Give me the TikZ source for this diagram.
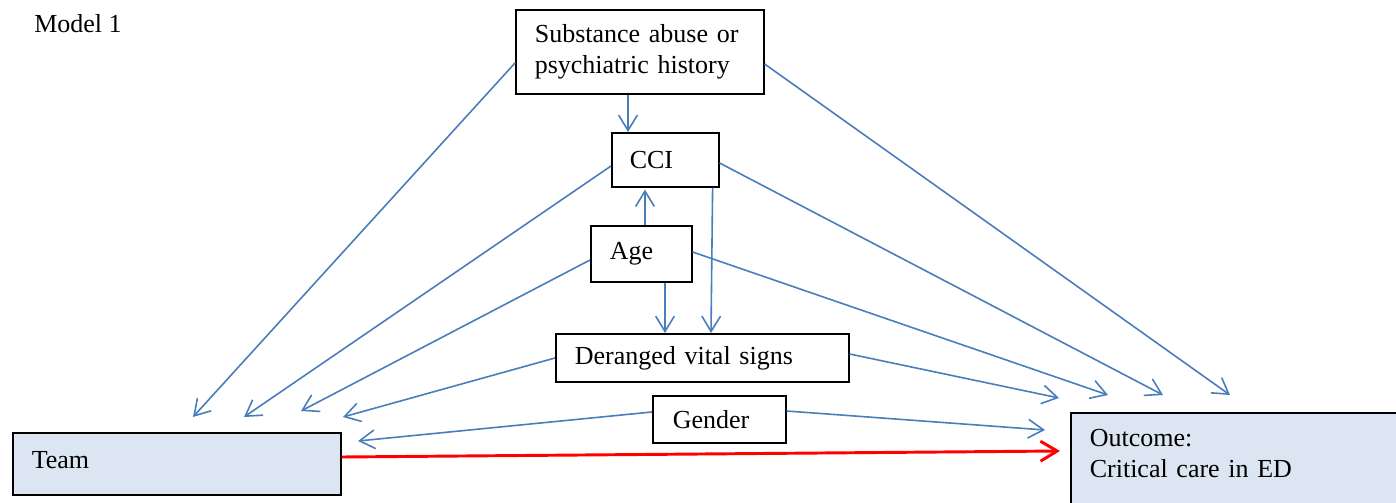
\documentclass[tikz,border=0pt]{standalone}
\usepackage{fontspec}
\setmainfont{Liberation Serif}
\usetikzlibrary{arrows.meta,calc}
\definecolor{edgeblue}{HTML}{4A7EBB}
\definecolor{boxfill}{HTML}{DCE6F2}
\begin{document}
\begin{tikzpicture}[x=0.75pt,y=-0.75pt,
  txt/.style={font=\fontsize{19.5}{23.5}\selectfont},
  box/.style={txt, draw=black, line width=1.2pt, rectangle, anchor=north west, align=left, inner ysep=0pt},
  link/.style={draw=edgeblue, line width=1.2pt, -{Straight Barb[length=11.5pt,width=14pt]}},
  mainlink/.style={draw=red, line width=2.2pt, -{Straight Barb[length=12.5pt,width=15pt]}},
]
\clip (0,0) rectangle (1396,503);
\node[txt, anchor=base west, inner sep=0pt] (title) at (34,33) {Model 1};
\node[box, minimum width=186pt, minimum height=63pt, text width=157.5pt, inner xsep=14.25pt] (sub) at (515,9) {Substance abuse or\\psychiatric history};
\node[box, minimum width=80.25pt, minimum height=40.5pt, text width=53.25pt, inner xsep=13.5pt] (cci) at (611,132) {CCI};
\node[box, minimum width=75.75pt, minimum height=42pt, text width=47.25pt, inner xsep=14.25pt] (age) at (590,225) {Age};
\node[box, minimum width=219.75pt, minimum height=36pt, text width=191.25pt, inner xsep=14.25pt] (der) at (555,333) {Deranged vital signs};
\node[box, minimum width=99.75pt, minimum height=35.25pt, text width=69.75pt, inner xsep=15pt] (gen) at (652,395) {Gender};
\node[box, fill=boxfill, minimum width=246pt, minimum height=46.5pt, text width=217.5pt, inner xsep=14.25pt, text depth=6pt] (team) at (12,432) {Team};
\node[box, fill=boxfill, text width=226.5pt, inner xsep=14.25pt, inner ysep=12pt, text depth=80pt] (out) at (1070,412) {Outcome:\\Critical care in ED};

\coordinate (t1) at (193,417);
\coordinate (t2) at (1230,395);
\coordinate (t4) at (244,417);
\coordinate (t5) at (1163,395);
\coordinate (t8) at (301,411);
\coordinate (t9) at (1108,395);
\coordinate (t11) at (343,417);
\coordinate (t12) at (1059,398);
\coordinate (t13) at (358,441);
\coordinate (t14) at (1045,430);

\draw[link] ($(sub.north west)+(0,54)$) -- (t1);
\draw[link] ($(sub.north east)+(0,55)$) -- (t2);
\draw[link] ($(sub.south west)+(113,0)$) -- ($(cci.north west)+(17,0)$);
\draw[link] ($(cci.north west)+(0,34)$) -- (t4);
\draw[link] ($(cci.north east)+(0,31)$) -- (t5);
\draw[link] ($(cci.south east)+(-7,0)$) -- ($(der.north west)+(156,0)$);
\draw[link] ($(age.north west)+(55,0)$) -- ($(cci.south west)+(34,2)$);
\draw[link] ($(age.north west)+(0,35)$) -- (t8);
\draw[link] ($(age.north east)+(0,27)$) -- (t9);
\draw[link] ($(age.south west)+(75,0)$) -- ($(der.north west)+(110,0)$);
\draw[link] ($(der.north west)+(0,25)$) -- (t11);
\draw[link] ($(der.north east)+(0,21)$) -- (t12);
\draw[link] ($(gen.north west)+(0,17)$) -- (t13);
\draw[link] ($(gen.north east)+(0,16)$) -- (t14);
\draw[mainlink] ($(team.north east)+(0,25)$) -- ($(out.north west)+(-10,39)$);
\end{tikzpicture}
\end{document}
